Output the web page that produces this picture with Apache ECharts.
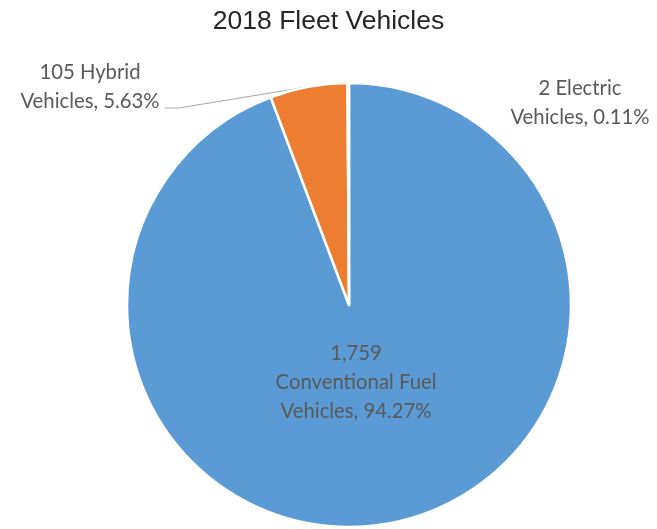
<!DOCTYPE html>
<html><head><meta charset="utf-8">
<script src="https://cdn.jsdelivr.net/npm/echarts@6/dist/echarts.min.js"></script>
<style>html,body{margin:0;padding:0;background:#fff}#c{width:657px;height:529px}</style>
</head><body><div id="c"></div>
<script>
const categories = ['Conventional Fuel Vehicles', 'Hybrid Vehicles', 'Electric Vehicles'];
const counts = [1759, 105, 2];
const percents = [94.27, 5.63, 0.11];
const labelTexts = ['1,759\nConventional Fuel\nVehicles, 94.27%', '105 Hybrid\nVehicles, 5.63%', '2 Electric\nVehicles, 0.11%'];
const colors = ['#5B9BD5', '#ED7D31', '#A5A5A5'];

const W = 657, H = 529;
// label block centres (fractions of chart size)
const labelPos = [[356 / W, 382 / H], [90 / W, 87 / H], [580 / W, 103 / H]];

const chart = echarts.init(document.getElementById('c'), null, {renderer: 'canvas'});
const data = categories.map((n, i) => ({
  name: n,
  value: counts[i],
  itemStyle: {color: colors[i]},
  label: {show: true, position: i === 0 ? 'inside' : 'outside', formatter: labelTexts[i]},
  labelLine: {show: i === 1, length: 20, length2: 14, lineStyle: {color: '#A6A6A6', width: 1}}
}));

chart.setOption({
  animation: false,
  backgroundColor: '#ffffff',
  title: {
    text: '2018 Fleet Vehicles',
    left: 'center',
    top: 3,
    textStyle: {fontFamily: 'Liberation Sans', fontSize: 26.5, fontWeight: 'normal', color: '#262626'}
  },
  series: [{
    type: 'pie',
    center: [349, 305],
    radius: [0, 222],
    startAngle: 90,
    clockwise: true,
    avoidLabelOverlap: false,
    itemStyle: {borderColor: '#ffffff', borderWidth: 2.5},
    label: {
      fontFamily: 'Lato',
      fontSize: 20.3,
      lineHeight: 29,
      color: '#595959',
      align: 'center'
    },
    labelLayout: function (p) {
      const pos = labelPos[p.dataIndex];
      const x = pos[0] * W, y = pos[1] * H;
      const out = {x: x, y: y, align: 'center', verticalAlign: 'middle'};
      if (p.dataIndex === 1 && p.labelLinePoints) {
        const start = p.labelLinePoints[0];
        const lx = x + p.labelRect.width / 2 + 5;
        const ly = y + 21;
        out.labelLinePoints = [start, [lx + 14, ly], [lx, ly]];
      }
      return out;
    },
    data: data
  }]
});
</script></body></html>
